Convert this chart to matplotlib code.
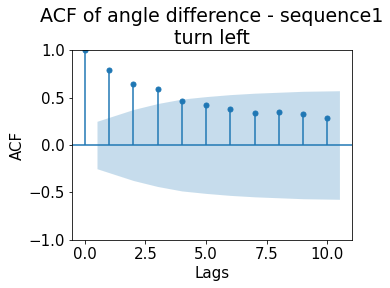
import matplotlib
matplotlib.use("Agg")
import matplotlib.pyplot as plt
import numpy as np

# autocorrelation values, lags 0..10
lags = np.arange(11)
acf_vals = [1.0, 0.786, 0.64, 0.586, 0.46, 0.418, 0.376, 0.333, 0.344, 0.323, 0.28]

# confidence band half-width (lags 1..10), band ends widened by half a lag
band_x = [0.5, 2, 3, 4, 5, 6, 7, 8, 9, 10.5]
band_hw = [0.25, 0.374, 0.437, 0.484, 0.51, 0.531, 0.546, 0.556, 0.566, 0.572]

xticks = [0.0, 2.5, 5.0, 7.5, 10.0]
title = "ACF of angle difference - sequence1\nturn left"

DPI = 72
fig = plt.figure(figsize=(390 / DPI, 288 / DPI), dpi=DPI)
ax = fig.add_axes([0.185, 0.167, 0.718, 0.659])

ax.vlines(lags, 0, acf_vals, color="C0", lw=1.5)
ax.plot(lags, acf_vals, "o", color="C0", ms=5)
ax.axhline(0, color="C0", lw=1.5)
ax.fill_between(band_x, -np.array(band_hw), band_hw, alpha=0.25, lw=0, color="C0")

ax.set_ylim(-1, 1)
ax.margins(x=0.05)
ax.set_xticks(xticks)
ax.set_xticklabels([f"{t:.1f}" for t in xticks])
ax.set_title(title, fontsize=19)
ax.set_xlabel("Lags", fontsize=15)
ax.set_ylabel("ACF", fontsize=15)
ax.tick_params(labelsize=15)

fig.savefig("out.png", dpi=DPI)
